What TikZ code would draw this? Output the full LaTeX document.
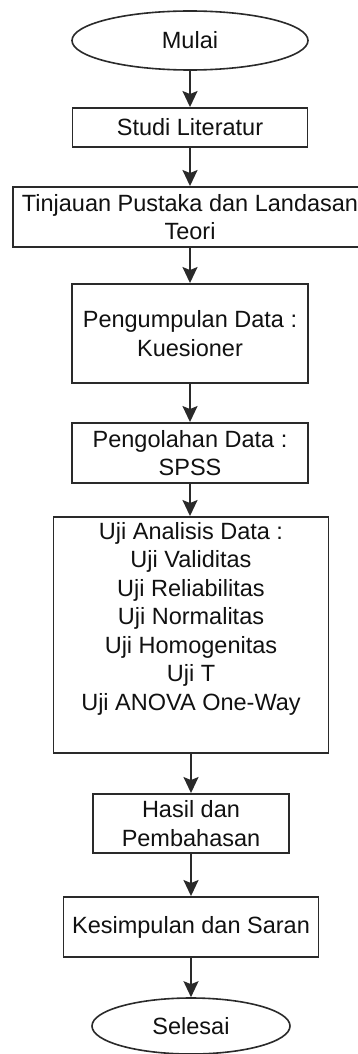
\documentclass[tikz,border=0pt]{standalone}
\usepackage{fontspec}
\setmainfont{Liberation Sans}
\usetikzlibrary{shapes.geometric,arrows.meta}
\definecolor{ink}{HTML}{2A2A2A}
\definecolor{txt}{HTML}{111111}
\tikzset{
  box/.style={draw=ink, line width=1.9pt, rectangle, inner sep=0pt, align=center,
    text=txt, font=\fontsize{23.5}{28.5}\selectfont},
  term/.style={draw=ink, line width=1.6pt, ellipse, inner sep=0pt,
    text=txt, font=\fontsize{23.5}{28.5}\selectfont},
  flow/.style={draw=ink, line width=1.9pt, -{Stealth[length=16pt,width=15pt,inset=3pt]}}
}
\begin{document}
\begin{tikzpicture}[x=1pt,y=-1pt]
\clip (0,0) rectangle (358,1054);
\useasboundingbox (0,0) rectangle (358,1054);
\fill[white] (0,0) rectangle (358,1054);
\node[term, minimum width=236pt, minimum height=59pt] (mulai) at (190,40.5) {Mulai};
\node[box, minimum width=235pt, minimum height=39pt] (studi) at (190,127.5) {Studi Literatur};
\node[box, minimum width=354pt, minimum height=60pt] (tinjau) at (190,217) {Tinjauan Pustaka dan Landasan\\Teori};
\node[box, minimum width=236pt, minimum height=99pt] (kumpul) at (190,333.5) {Pengumpulan Data :\\Kuesioner};
\node[box, minimum width=236pt, minimum height=60pt] (olah) at (190,453) {Pengolahan Data :\\SPSS};
\node[box, minimum width=275pt, minimum height=236pt] (uji) at (191,635) {Uji Analisis Data :\\Uji Validitas\\Uji Reliabilitas\\Uji Normalitas\\Uji Homogenitas\\Uji T\\Uji ANOVA One-Way\\\strut};
\node[box, minimum width=196pt, minimum height=59pt] (hasil) at (191,823.5) {Hasil dan\\Pembahasan};
\node[box, minimum width=255pt, minimum height=60pt] (simpul) at (191,927) {Kesimpulan dan Saran};
\node[term, minimum width=198pt, minimum height=56pt] (selesai) at (191,1026) {Selesai};
\draw[flow] (mulai.south) -- (studi.north);
\draw[flow] (studi.south) -- (tinjau.north);
\draw[flow] (tinjau.south) -- (kumpul.north);
\draw[flow] (kumpul.south) -- (olah.north);
\draw[flow] (olah.south) -- (olah.south |- uji.north);
\draw[flow] (uji.south) -- (hasil.north);
\draw[flow] (hasil.south) -- (simpul.north);
\draw[flow] (simpul.south) -- (selesai.north);
\end{tikzpicture}
\end{document}
